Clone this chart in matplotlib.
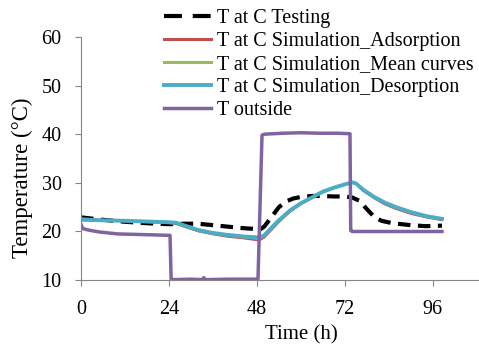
import numpy as np
import matplotlib
matplotlib.use("Agg")
import matplotlib.pyplot as plt

plt.rcParams['font.family'] = ['Liberation Serif', 'DejaVu Serif']

# T outside (purple)
h_out = [0, 0.5, 2, 5, 10, 15, 20, 24.3, 24.6, 25, 30, 33, 33.5, 34, 40, 48.3, 49.4, 50, 55, 60, 65, 70, 73.4, 73.6, 74, 80, 90, 98.5]
T_out = [21.5, 20.6, 20.3, 19.9, 19.5, 19.4, 19.3, 19.2, 10.2, 10.1, 10.2, 10.1, 10.5, 10.1, 10.2, 10.2, 39.8, 40.0, 40.2, 40.3, 40.2, 40.2, 40.1, 20.2, 20.0, 20.0, 20.0, 20.0]

# T at C testing (dashed)
h_test = [0, 6, 12, 18, 24, 28, 32, 36, 40, 44, 48, 49, 50, 52, 54, 56, 58, 60, 63, 66, 69, 72, 74, 76, 78, 80, 82, 85, 90, 94, 98.5]
T_test = [22.9, 22.4, 22.0, 21.7, 21.5, 21.6, 21.6, 21.3, 21.0, 20.7, 20.5, 20.5, 21.0, 23.0, 25.0, 26.2, 26.8, 27.1, 27.3, 27.3, 27.2, 27.2, 27.0, 26.3, 24.6, 23.0, 22.2, 21.7, 21.3, 21.1, 21.2]

# simulations
h_sim = [0, 6, 12, 24, 26, 28, 32, 36, 40, 44, 48, 49, 50, 52, 54, 57, 60, 63, 66, 69, 72, 74, 75, 77, 80, 83, 86, 90, 94, 98.5]
T_des = [22.4, 22.3, 22.2, 21.9, 21.8, 21.3, 20.3, 19.7, 19.3, 19.0, 18.8, 18.8, 19.2, 20.8, 22.3, 24.3, 25.8, 27.0, 28.2, 29.0, 29.7, 30.1, 29.9, 28.6, 27.1, 25.9, 25.0, 24.0, 23.2, 22.6]
T_ads = [22.8, 22.4, 22.1, 21.7, 21.5, 21.0, 20.0, 19.4, 18.9, 18.6, 18.2, 18.3, 18.7, 20.3, 21.9, 24.0, 25.6, 26.8, 28.0, 28.9, 29.6, 30.0, 29.8, 28.3, 26.8, 25.5, 24.6, 23.6, 22.9, 22.3]
T_mean = [(a + b) / 2 for a, b in zip(T_ads, T_des)]

fs = 14.5

fig = plt.figure(figsize=(4.79, 3.45), dpi=100)
ax = fig.add_axes([0.169, 0.188, 0.831, 0.705])

ax.plot(h_test, T_test, color='black', lw=3, dashes=(3, 1.8), label='T at C Testing')
ax.plot(h_sim, T_ads, color='#C0504D', lw=1.3, label='T at C Simulation_Adsorption')
ax.plot(h_sim, T_mean, color='#9BBB59', lw=1.3, label='T at C Simulation_Mean curves')
ax.plot(h_sim, T_des, color='#4BACC6', lw=2.8, label='T at C Simulation_Desorption')
ax.plot(h_out, T_out, color='#8064A2', lw=2.5, label='T outside')

ax.set_xlim(0, 108.6)
ax.set_ylim(10, 60)
ax.set_xticks([0, 24, 48, 72, 96])
ax.set_yticks([10, 20, 30, 40, 50, 60])
for s in ['top', 'right']:
    ax.spines[s].set_visible(False)
for s in ['left', 'bottom']:
    ax.spines[s].set_color('#868686')
ax.tick_params(colors='#868686', labelcolor='black', labelsize=fs, length=4, direction='out')
ax.tick_params(axis='y', pad=10)
ax.tick_params(axis='x', pad=10)
ax.set_xlabel('Time (h)', fontsize=15, va='center')
ax.xaxis.set_label_coords(0.555, -0.225)
ax.set_ylabel('Temperature (°C)', fontsize=16.5, va='center')
ax.yaxis.set_label_coords(-0.148, 0.42)

leg = fig.legend(loc='upper left', bbox_to_anchor=(0.325, 0.998), frameon=False, fontsize=fs,
                 handlelength=2.35, handletextpad=0.3, labelspacing=0.2, borderaxespad=0)
for line in leg.get_lines():
    line.set_linewidth(max(line.get_linewidth(), 2.2))
# testing handle shows two long dashes
leg.get_lines()[0].set_dashes((4.3, 2.6))

fig.savefig('out.png', dpi=100)
